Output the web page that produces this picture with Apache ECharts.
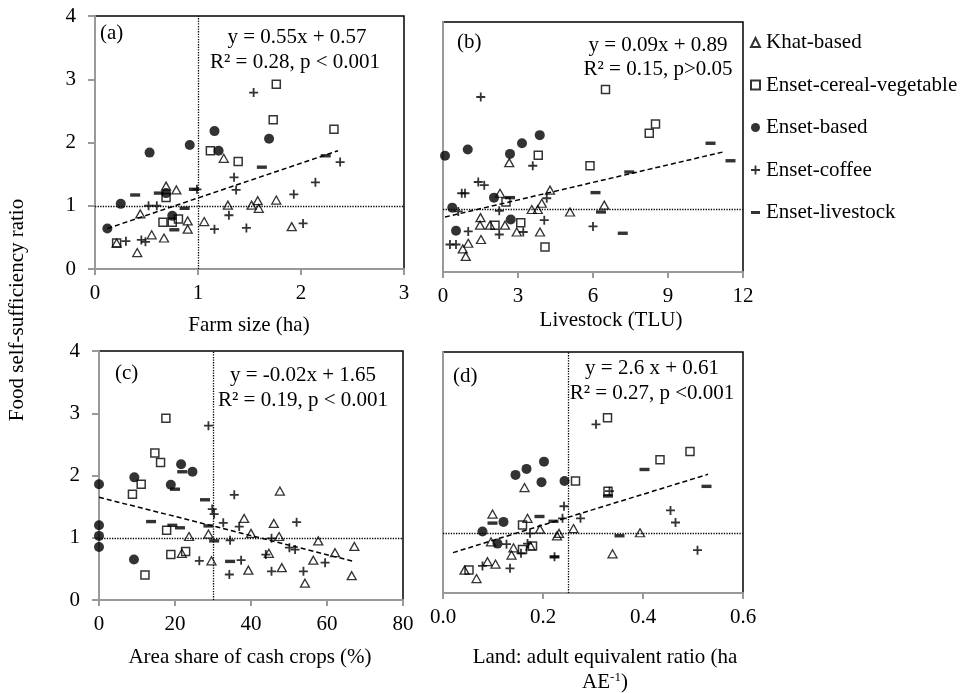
<!DOCTYPE html>
<html>
<head>
<meta charset="utf-8">
<script src="https://cdn.jsdelivr.net/npm/echarts@6.0.0/dist/echarts.min.js"></script>
<style>
html,body{margin:0;padding:0;background:#fff;}
#chart{width:970px;height:693px;}
</style>
</head>
<body>
<div id="chart"></div>
<script>
// ---------- DATA ----------
const seriesNames = ['Khat-based','Enset-cereal-vegetable','Enset-based','Enset-coffee','Enset-livestock'];

// Panel (a): Farm size (ha) vs food self-sufficiency ratio
const aKhat = [[1.25,1.75],[0.69,1.31],[0.79,1.25],[1.29,1.01],[1.52,1.01],[1.58,1.08],[1.59,0.96],[1.76,1.09],[0.44,0.87],[0.90,0.76],[1.06,0.75],[1.91,0.67],[0.55,0.54],[0.41,0.26],[0.67,0.49],[0.90,0.63],[0.21,0.41]];
const aCereal = [[1.76,2.92],[1.73,2.36],[2.32,2.21],[1.12,1.87],[1.39,1.70],[0.69,1.13],[0.81,0.79],[0.66,0.74],[0.75,0.74],[0.21,0.41]];
const aBased = [[1.16,2.18],[0.92,1.96],[0.53,1.84],[1.20,1.87],[1.69,2.06],[0.69,1.20],[0.25,1.03],[0.75,0.84],[0.12,0.64]];
const aCoffee = [[1.54,2.79],[1.35,1.45],[1.37,1.25],[0.99,1.26],[0.52,1.00],[0.60,1.00],[1.30,0.85],[2.38,1.69],[2.14,1.37],[1.93,1.18],[2.02,0.72],[1.47,0.65],[0.30,0.44],[0.45,0.46],[0.49,0.43],[1.16,0.63]];
const aLivestock = [[0.39,1.17],[0.62,1.20],[0.96,1.26],[0.87,0.96],[1.62,1.61],[2.24,1.79],[0.77,0.62]];
const aTrend = [[0.12,0.64],[2.36,1.87]];
const aRef = {x:1, y:1};

// Panel (b): Livestock (TLU)
const bKhat = [[2.65,1.75],[6.45,1.07],[5.08,0.96],[4.28,1.31],[3.95,1.10],[3.55,1.00],[3.79,1.00],[2.28,1.26],[1.50,0.87],[1.48,0.75],[1.88,0.75],[2.48,0.75],[2.95,0.64],[3.88,0.64],[1.52,0.52],[1.01,0.46],[0.79,0.37],[0.91,0.25]];
const bCereal = [[3.81,1.87],[6.50,2.92],[8.25,2.22],[8.50,2.37],[5.88,1.70],[2.52,1.12],[3.11,0.79],[2.08,0.75],[4.08,0.40]];
const bBased = [[0.08,1.86],[0.99,1.96],[2.68,1.89],[3.16,2.06],[3.87,2.19],[2.04,1.19],[0.37,1.03],[2.71,0.84],[0.52,0.66]];
const bCoffee = [[1.51,2.80],[3.59,1.70],[4.15,1.18],[4.05,0.83],[6.00,0.73],[0.75,1.26],[0.88,1.26],[1.41,1.44],[1.65,1.39],[2.25,0.98],[0.61,0.97],[1.01,0.65],[2.25,0.60],[3.21,0.64],[0.28,0.44],[0.52,0.44]];
const bLivestock = [[2.68,1.19],[6.10,1.27],[6.32,0.96],[7.45,1.60],[10.70,2.06],[11.50,1.78],[7.19,0.62]];
const bTrend = [[0.08,0.88],[11.2,1.92]];
const bRef = {y:1};

// Panel (c): Area share of cash crops (%)
const cKhat = [[38.2,1.31],[40.0,1.07],[28.8,1.06],[23.7,1.02],[21.8,0.75],[29.6,0.63],[39.3,0.48],[47.6,1.75],[46.0,1.23],[47.4,1.02],[57.7,0.95],[67.2,0.86],[62.1,0.76],[44.7,0.75],[56.4,0.64],[48.1,0.52],[54.2,0.27],[66.5,0.39]];
const cCereal = [[17.6,2.92],[14.7,2.36],[16.2,2.21],[11.1,1.86],[8.8,1.70],[17.8,1.12],[18.9,0.73],[22.8,0.78],[12.1,0.40]];
const cBased = [[21.6,2.18],[24.6,2.06],[9.3,1.97],[0,1.86],[18.9,1.85],[0,1.20],[0,1.03],[0,0.85],[9.2,0.65]];
const cCoffee = [[28.8,2.80],[35.6,1.69],[29.8,1.46],[30.3,1.38],[32.7,1.24],[36.9,1.18],[34.5,0.96],[26.4,0.63],[37.4,0.64],[34.3,0.41],[52.0,1.25],[45.4,0.99],[50.1,0.84],[51.6,0.81],[43.9,0.73],[59.5,0.60],[45.4,0.46],[53.8,0.46]];
const cLivestock = [[21.9,2.06],[20.0,1.78],[27.9,1.61],[13.7,1.26],[19.3,1.20],[21.3,1.16],[28.8,1.19],[30.3,0.95],[34.5,0.62]];
const cTrend = [[0,1.65],[67,0.62]];
const cRef = {x:30, y:1};

// Panel (d): Land : adult equivalent ratio (ha AE-1)
const dKhat = [[0.163,1.75],[0.099,1.31],[0.169,1.24],[0.261,1.07],[0.194,1.06],[0.232,0.99],[0.228,0.95],[0.394,1.00],[0.096,0.85],[0.141,0.75],[0.175,0.78],[0.137,0.63],[0.339,0.65],[0.089,0.52],[0.105,0.48],[0.043,0.38],[0.067,0.24]];
const dCereal = [[0.329,2.91],[0.494,2.35],[0.434,2.21],[0.265,1.86],[0.330,1.69],[0.159,1.13],[0.179,0.78],[0.159,0.72],[0.052,0.38]];
const dBased = [[0.202,2.18],[0.167,2.06],[0.145,1.96],[0.197,1.84],[0.243,1.86],[0.121,1.18],[0.079,1.02],[0.109,0.82]];
const dCoffee = [[0.306,2.80],[0.333,1.69],[0.455,1.37],[0.465,1.17],[0.242,1.44],[0.239,1.24],[0.275,1.24],[0.174,0.99],[0.127,0.81],[0.169,0.82],[0.156,0.66],[0.223,0.60],[0.509,0.71],[0.079,0.45],[0.134,0.41]];
const dLivestock = [[0.403,2.05],[0.330,1.61],[0.527,1.77],[0.193,1.27],[0.221,1.19],[0.099,1.16],[0.353,0.95],[0.223,0.60]];
const dTrend = [[0.02,0.67],[0.53,1.97]];
const dRef = {x:0.25, y:1};

// Axis ranges / ticks
const xRanges = [[0,3,1],[0,12,3],[0,80,20],[0,0.6,0.2]];
const yRange = [0,4,1];

// Texts
const panelLabels = ['(a)','(b)','(c)','(d)'];
const equations = ['y = 0.55x + 0.57','y = 0.09x + 0.89','y = -0.02x + 1.65','y = 2.6 x + 0.61'];
const stats = ['R² = 0.28, p < 0.001','R² = 0.15, p>0.05','R² = 0.19, p < 0.001','R² = 0.27, p <0.001'];
const xTitles = ['Farm size (ha)','Livestock (TLU)','Area share of cash crops (%)','Land: adult equivalent ratio (ha'];
const yTitle = 'Food self-sufficiency ratio';

// ---------- CHART ----------
const FONT = "'Liberation Serif','Times New Roman',serif";
const FS = 21;
const chart = echarts.init(document.getElementById('chart'), null, {renderer:'canvas'});

const PLUS = 'path://M4,0H6V4H10V6H6V10H4V6H0V4H4Z';
const DASH = 'path://M0,0H10V3.4H0Z';
const HOLLOW = 'rgba(0,0,0,0)';
const styles = {
  'Khat-based': {symbol:'triangle', symbolSize:[9,8], itemStyle:{color:HOLLOW, borderColor:'#000', borderWidth:1.3}},
  'Enset-cereal-vegetable': {symbol:'rect', symbolSize:8, itemStyle:{color:HOLLOW, borderColor:'#000', borderWidth:1.5}},
  'Enset-based': {symbol:'circle', symbolSize:10, itemStyle:{color:'#000'}},
  'Enset-coffee': {symbol:PLUS, symbolSize:9, itemStyle:{color:'#000'}},
  'Enset-livestock': {symbol:'rect', symbolSize:[10,3.4], itemStyle:{color:'#000'}}
};

const grids = [
  {left:95, top:16, width:309, height:253},
  {left:443, top:22, width:300, height:250},
  {left:99, top:351, width:304, height:249},
  {left:443, top:352, width:300, height:241}
].map(g => Object.assign({show:true, borderColor:'#000', borderWidth:1.5, backgroundColor:'transparent'}, g));

const axisLineStyle = {color:'#999', width:2};
const xAxes = xRanges.map((r,i) => ({
  type:'value', gridIndex:i, min:r[0], max:r[1], interval:r[2],
  axisLine:{show:true, onZero:false, lineStyle:axisLineStyle},
  axisTick:{show:true, inside:false, length:6, lineStyle:axisLineStyle},
  splitLine:{show:false},
  axisLabel:{show:true, color:'#000', fontFamily:FONT, fontSize:FS, margin:14,
    formatter: i===3 ? (v => v.toFixed(1)) : (v => String(v))}
}));
const yAxes = [0,1,2,3].map(i => ({
  type:'value', gridIndex:i, min:yRange[0], max:yRange[1], interval:yRange[2],
  axisLine:{show:true, onZero:false, lineStyle:axisLineStyle},
  axisTick:{show:(i===0||i===2), inside:false, length:7, lineStyle:axisLineStyle},
  splitLine:{show:false},
  axisLabel:{show:(i===0||i===2), color:'#000', fontFamily:FONT, fontSize:FS, margin:19}
}));

const panelData = [
  [aKhat,aCereal,aBased,aCoffee,aLivestock],
  [bKhat,bCereal,bBased,bCoffee,bLivestock],
  [cKhat,cCereal,cBased,cCoffee,cLivestock],
  [dKhat,dCereal,dBased,dCoffee,dLivestock]
];
const trends = [aTrend,bTrend,cTrend,dTrend];
const refs = [aRef,bRef,cRef,dRef];

const series = [];
for (let i=0;i<4;i++){
  const refData = [];
  if (refs[i].x !== undefined) refData.push({xAxis:refs[i].x});
  if (refs[i].y !== undefined) refData.push({yAxis:refs[i].y});
  series.push({
    type:'line', name:'trend'+i, xAxisIndex:i, yAxisIndex:i, data:trends[i],
    showSymbol:false, symbol:'none', silent:true, z:3,
    lineStyle:{color:'#000', width:1.5, type:[5,3]},
    markLine:{silent:true, symbol:['none','none'], label:{show:false}, animation:false,
      lineStyle:{color:'#000', type:'dotted', width:1.3}, data:refData}
  });
  seriesNames.forEach((nm,k) => {
    series.push(Object.assign({
      type:'scatter', name:nm, xAxisIndex:i, yAxisIndex:i, data:panelData[i][k], z:4
    }, JSON.parse(JSON.stringify(styles[nm]))));
  });
}

function txt(text, x, y, align, extra){
  return Object.assign({type:'text', x:x, y:y, silent:true, z:100,
    style:{text:text, fill:'#000', font: FS+'px '+FONT, align:align||'center', verticalAlign:'middle'}}, extra||{});
}
const graphics = [
  txt(panelLabels[0], 100, 33, 'left'),
  txt(equations[0], 297, 37), txt(stats[0], 295, 62),
  txt(panelLabels[1], 457, 42, 'left'),
  txt(equations[1], 658, 45), txt(stats[1], 658, 69),
  txt(panelLabels[2], 115, 373, 'left'),
  txt(equations[2], 303, 375), txt(stats[2], 303, 400),
  txt(panelLabels[3], 453, 376, 'left'),
  txt(equations[3], 652, 368), txt(stats[3], 652, 393),
  txt(xTitles[0], 249, 325),
  txt(xTitles[1], 611, 320),
  txt(xTitles[2], 250, 657),
  txt(xTitles[3], 605, 657),
  {type:'text', x:605, y:682, silent:true, z:100,
   style:{text:'{a|AE}{s|-1}{a|)}', align:'center', verticalAlign:'middle',
     rich:{a:{fontFamily:FONT, fontSize:FS, fill:'#000', color:'#000', lineHeight:22},
           s:{fontFamily:FONT, fontSize:13, fill:'#000', color:'#000', verticalAlign:'top', lineHeight:22}}}},
  txt(yTitle, 17, 310, 'center', {rotation:Math.PI/2})
];

const legendIcons = {
  'Khat-based':'triangle', 'Enset-cereal-vegetable':'rect', 'Enset-based':'circle',
  'Enset-coffee':PLUS, 'Enset-livestock':DASH
};

chart.setOption({
  animation:false,
  backgroundColor:'#fff',
  grid:grids,
  xAxis:xAxes,
  yAxis:yAxes,
  legend:{
    orient:'vertical', left:745, top:27, itemGap:21.5, itemWidth:9, itemHeight:9,
    selectedMode:false, symbolKeepAspect:true,
    textStyle:{fontFamily:FONT, fontSize:FS, color:'#000', padding:[0,0,0,1]},
    data:seriesNames.map(n => ({name:n, icon:legendIcons[n]}))
  },
  graphic:graphics,
  series:series
});
</script>
</body>
</html>
